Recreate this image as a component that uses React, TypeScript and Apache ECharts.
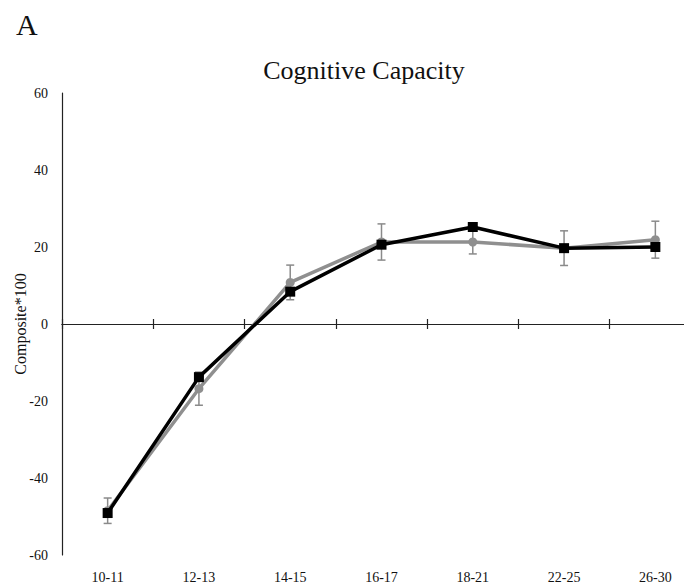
import React, { useEffect, useRef } from "react";
import * as echarts from "echarts";

const categories = ["10-11", "12-13", "14-15", "16-17", "18-21", "22-25", "26-30"];
const grayValues = [-48.5, -16.8, 10.8, 21.3, 21.3, 19.7, 21.9];
const grayErr = [3.3, 4.3, 4.5, 4.7, 3.1, 4.5, 4.8];
const blackValues = [-49.1, -13.8, 8.4, 20.6, 25.2, 19.7, 20.0];
const yTicks = { min: -60, max: 60, interval: 20 };
const yAxisName = "Composite*100";

const FONT = "'Liberation Serif', 'Times New Roman', serif";

export default function App() {
  const ref = useRef<HTMLDivElement>(null);
  useEffect(() => {
    if (!ref.current) return;
    const chart = echarts.init(ref.current, null, { renderer: "svg" });
    const errData = categories.map((_, i) => [i, grayValues[i] - grayErr[i], grayValues[i] + grayErr[i]]);
    chart.setOption({
      animation: false,
      backgroundColor: "#ffffff",
      title: [
        {
          text: "Cognitive Capacity",
          left: 359,
          top: 52,
          textAlign: "center",
          textStyle: { fontFamily: FONT, fontSize: 26, fontWeight: "normal", color: "#111" },
        },
        {
          text: "A",
          left: 11,
          top: 4,
          textStyle: { fontFamily: FONT, fontSize: 30, fontWeight: "normal", color: "#111" },
        },
      ],
      graphic: [
        {
          type: "text",
          x: 20,
          y: 324,
          rotation: Math.PI / 2,
          style: {
            text: yAxisName,
            fontFamily: FONT,
            fontSize: 16,
            fill: "#111",
            align: "center",
            verticalAlign: "middle",
          },
        },
      ],
      grid: { left: 62, top: 93, bottom: 33, right: -17, containLabel: false, outerBoundsMode: "none" },
      xAxis: [
        {
          type: "category",
          data: categories,
          position: "bottom",
          axisLine: { show: false, onZero: false },
          axisTick: { show: false },
          axisLabel: { fontFamily: FONT, fontSize: 14, color: "#111", margin: 15, interval: 0 },
        },
        {
          type: "category",
          data: categories,
          position: "bottom",
          axisLine: { show: true, onZero: true, onZeroAxisIndex: 0, lineStyle: { color: "#222", width: 1.2 } },
          axisTick: { show: true, inside: false, length: 5, lineStyle: { color: "#222", width: 1.2 } },
          axisLabel: { show: false },
        },
        {
          type: "category",
          data: categories,
          position: "bottom",
          axisLine: { show: true, onZero: true, onZeroAxisIndex: 0, lineStyle: { color: "#222", width: 1.2 } },
          axisTick: { show: true, inside: true, length: 5, lineStyle: { color: "#222", width: 1.2 } },
          axisLabel: { show: false },
        },
      ],
      yAxis: {
        type: "value",
        min: yTicks.min,
        max: yTicks.max,
        interval: yTicks.interval,
        axisLine: { show: true, lineStyle: { color: "#222", width: 1.2 } },
        axisTick: { show: false },
        splitLine: { show: false },
        axisLabel: { fontFamily: FONT, fontSize: 14, color: "#111", margin: 14 },
      },
      series: [
        {
          type: "custom",
          xAxisIndex: 0,
          z: 1,
          data: errData,
          renderItem: (params: any, api: any) => {
            const x = api.value(0);
            const top = api.coord([x, api.value(2)]);
            const bot = api.coord([x, api.value(1)]);
            const w = 4;
            const style = { stroke: "#8a8a8a", lineWidth: 1.5 };
            return {
              type: "group",
              children: [
                { type: "line", shape: { x1: top[0], y1: top[1], x2: bot[0], y2: bot[1] }, style },
                { type: "line", shape: { x1: top[0] - w, y1: top[1], x2: top[0] + w, y2: top[1] }, style },
                { type: "line", shape: { x1: bot[0] - w, y1: bot[1], x2: bot[0] + w, y2: bot[1] }, style },
              ],
            };
          },
        },
        {
          type: "line",
          xAxisIndex: 0,
          z: 2,
          data: grayValues,
          symbol: "circle",
          symbolSize: 9,
          lineStyle: { color: "#8f8f8f", width: 3.5 },
          itemStyle: { color: "#8f8f8f" },
        },
        {
          type: "line",
          xAxisIndex: 0,
          z: 3,
          data: blackValues,
          symbol: "rect",
          symbolSize: 10,
          lineStyle: { color: "#000", width: 3.5 },
          itemStyle: { color: "#000" },
        },
      ],
    });
    return () => chart.dispose();
  }, []);
  return <div ref={ref} style={{ position: "fixed", left: 0, top: 0, width: 684, height: 588 }} />;
}
